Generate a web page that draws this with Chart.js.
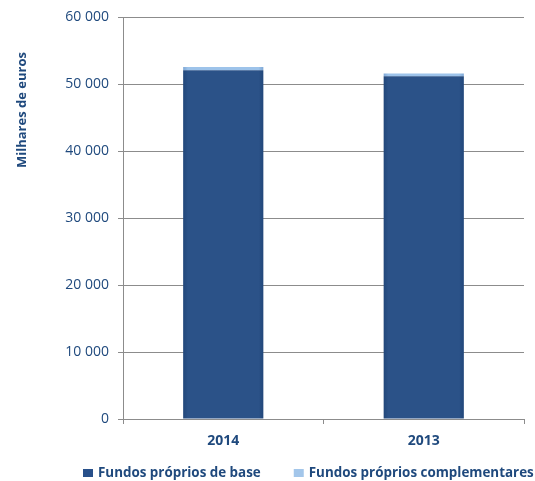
<!DOCTYPE html>
<html>
<head>
<meta charset="utf-8">
<script src="https://cdn.jsdelivr.net/npm/chart.js@4/dist/chart.umd.min.js"></script>
<style>
    html, body { margin: 0; padding: 0; background: #ffffff; }
    #wrap { width: 535px; height: 481px; position: relative; }
</style>
</head>
<body>
<div id="wrap"><canvas id="chart"></canvas></div>
<script>
const categories = ['2014', '2013'];
const fundosBase = [52100, 51200];
const fundosComplementares = [500, 400];
const yTicks = [0, 10000, 20000, 30000, 40000, 50000, 60000];

const textBlue = '#1F497D';
const fontFamily = '"Open Sans", Lato, sans-serif';
const legendColors = ['#28508A', '#A3C6EA'];

// titulo do eixo Y desenhado a parte (fica mais acima do centro)
const yTitlePlugin = {
    id: 'yTitle',
    afterDraw(chart) {
        const ctx = chart.ctx;
        ctx.save();
        ctx.translate(22, 110);
        ctx.rotate(-Math.PI / 2);
        ctx.font = 'bold 13px ' + fontFamily;
        ctx.fillStyle = textBlue;
        ctx.textAlign = 'center';
        ctx.textBaseline = 'middle';
        ctx.fillText('Milhares de euros', 0, 0);
        ctx.restore();
    }
};

// legenda em baixo, mais perto do eixo do que a do Chart.js
const bottomLegendPlugin = {
    id: 'bottomLegend',
    afterDraw(chart) {
        const ctx = chart.ctx;
        ctx.save();
        ctx.font = 'bold 13.4px ' + fontFamily;
        ctx.textBaseline = 'middle';
        let x = 83;
        const y = 473;
        chart.data.datasets.forEach((ds, i) => {
            ctx.fillStyle = legendColors[i];
            ctx.fillRect(x, y - 4, 10, 8);
            ctx.fillStyle = textBlue;
            ctx.fillText(ds.label, x + 15, y);
            x += 15 + ctx.measureText(ds.label).width + 33;
        });
        ctx.restore();
    }
};

function barGradient(ctx, dark, edge) {
    const chart = ctx.chart;
    const xs = chart.scales && chart.scales.x;
    if (!chart.chartArea || !xs || ctx.dataIndex === undefined) return dark;
    const cx = xs.getPixelForValue(ctx.dataIndex);
    const half = xs.width / categories.length * 0.4 / 2;
    if (!isFinite(cx) || !isFinite(half)) return dark;
    const g = chart.ctx.createLinearGradient(cx - half, 0, cx + half, 0);
    g.addColorStop(0, edge);
    g.addColorStop(0.06, dark);
    g.addColorStop(0.94, dark);
    g.addColorStop(1, edge);
    return g;
}

new Chart(document.getElementById('chart'), {
    type: 'bar',
    data: {
        labels: categories,
        datasets: [{
            label: 'Fundos próprios de base',
            data: fundosBase,
            backgroundColor: ctx => barGradient(ctx, '#2B5288', '#22477A'),
            borderWidth: 0
        }, {
            label: 'Fundos próprios complementares',
            data: fundosComplementares,
            backgroundColor: ctx => barGradient(ctx, '#9DC3EA', '#7FA8D6'),
            borderWidth: 0
        }]
    },
    options: {
        responsive: true,
        maintainAspectRatio: false,
        animation: false,
        layout: { padding: { top: 16, right: 11, left: 0, bottom: 28 } },
        datasets: { bar: { categoryPercentage: 0.4, barPercentage: 1 } },
        plugins: {
            tooltip: { enabled: false },
            legend: { display: false }
        },
        scales: {
            x: {
                stacked: true,
                border: { color: '#8C8C8C', width: 1 },
                grid: { display: true, drawOnChartArea: false, drawTicks: true, tickLength: 5, color: '#8C8C8C', offset: true },
                ticks: {
                    color: textBlue,
                    padding: 9,
                    font: { family: fontFamily, size: 14, weight: 'bold' }
                },
                afterFit(scale) { scale.height = 34; }
            },
            y: {
                stacked: true,
                min: 0,
                max: 60000,
                afterBuildTicks(scale) { scale.ticks = yTicks.map(v => ({ value: v })); },
                border: { color: '#8C8C8C', width: 1 },
                grid: { color: '#8C8C8C', lineWidth: 1, tickLength: 5, drawTicks: true },
                ticks: {
                    color: textBlue,
                    padding: 9,
                    font: { family: fontFamily, size: 14 },
                    callback: v => v === 0 ? '0' : String(v).replace(/\B(?=(\d{3})+(?!\d))/g, ' ')
                },
                afterFit(scale) { scale.width = 123; }
            }
        }
    },
    plugins: [yTitlePlugin, bottomLegendPlugin]
});
</script>
</body>
</html>
